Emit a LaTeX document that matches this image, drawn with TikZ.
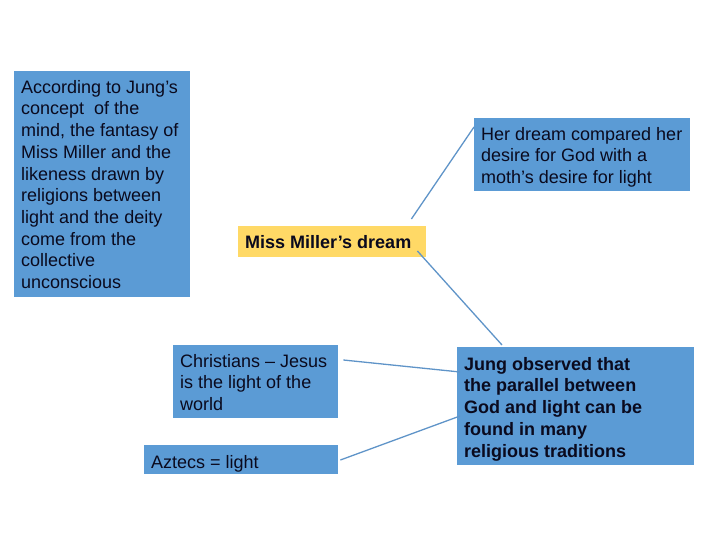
\documentclass[tikz,border=0pt]{standalone}
\usepackage{fontspec}
\setmainfont{Liberation Sans}
\usetikzlibrary{calc}
\definecolor{boxblue}{HTML}{5B9BD5}
\definecolor{boxyellow}{HTML}{FFD966}
\definecolor{linkblue}{HTML}{5F94C8}
\definecolor{txt}{HTML}{0A0A1E}
\begin{document}
\begin{tikzpicture}[x=1pt,y=-1pt,
  bluebox/.style={draw=none,fill=boxblue,inner sep=0pt,anchor=north west},
  yellowbox/.style={draw=none,fill=boxyellow,inner sep=0pt,anchor=north west},
  boxtext/.style={anchor=north west,inner sep=0pt,align=left,text=txt,
    font=\fontsize{18pt}{21.7pt}\selectfont},
  boldtext/.style={boxtext,font=\fontsize{18pt}{21.7pt}\selectfont\bfseries},
  link/.style={draw=linkblue,line width=1.3pt}]
\useasboundingbox (0,0) rectangle (720,540);
% boxes
\node[bluebox,minimum width=176pt,minimum height=226pt] (left) at (14,71) {};
\node[bluebox,minimum width=216pt,minimum height=73pt] (her) at (474,118) {};
\node[yellowbox,minimum width=188pt,minimum height=31pt] (miss) at (238,226) {};
\node[bluebox,minimum width=165pt,minimum height=73pt] (chr) at (173,345) {};
\node[bluebox,minimum width=194pt,minimum height=29pt] (azt) at (144,445) {};
\node[bluebox,minimum width=237pt,minimum height=118pt] (jung) at (457,347) {};
% texts
\node[boxtext] (lefttxt) at (21,80) {According to Jung’s\\concept\ \ of the\\mind, the fantasy of\\Miss Miller and the\\likeness drawn by\\religions between\\light and the deity\\come from the\\collective\\unconscious};
\node[boxtext] (hertxt) at (481,127) {Her dream compared her\\desire for God with a\\moth’s desire for light};
\node[boldtext] (misstxt) at (245,235) {Miss Miller’s dream};
\node[boxtext] (chrtxt) at (180,354) {Christians – Jesus\\is the light of the\\world};
\node[boxtext] (azttxt) at (151,455) {Aztecs = light};
\node[boldtext] (jungtxt) at (464,357) {Jung observed that\\the parallel between\\God and light can be\\found in many\\religious traditions};
% connectors
\coordinate (c1) at ($(miss.north east)+(-15,-7)$);
\coordinate (c2) at ($(her.north west)+(0,9)$);
\draw[link] (c1) -- (c2);
\coordinate (c3) at ($(miss.north east)+(-9,25)$);
\coordinate (c4) at ($(jung.north west)+(45,-2)$);
\draw[link] (c3) -- (c4);
\coordinate (c5) at ($(chr.north east)+(5,15)$);
\coordinate (c6) at ($(jung.north west)+(3,25)$);
\draw[link] (c5) -- (c6);
\coordinate (c7) at ($(azt.north east)+(2,15)$);
\coordinate (c8) at ($(jung.north west)+(3,69)$);
\draw[link] (c7) -- (c8);
\end{tikzpicture}
\end{document}
